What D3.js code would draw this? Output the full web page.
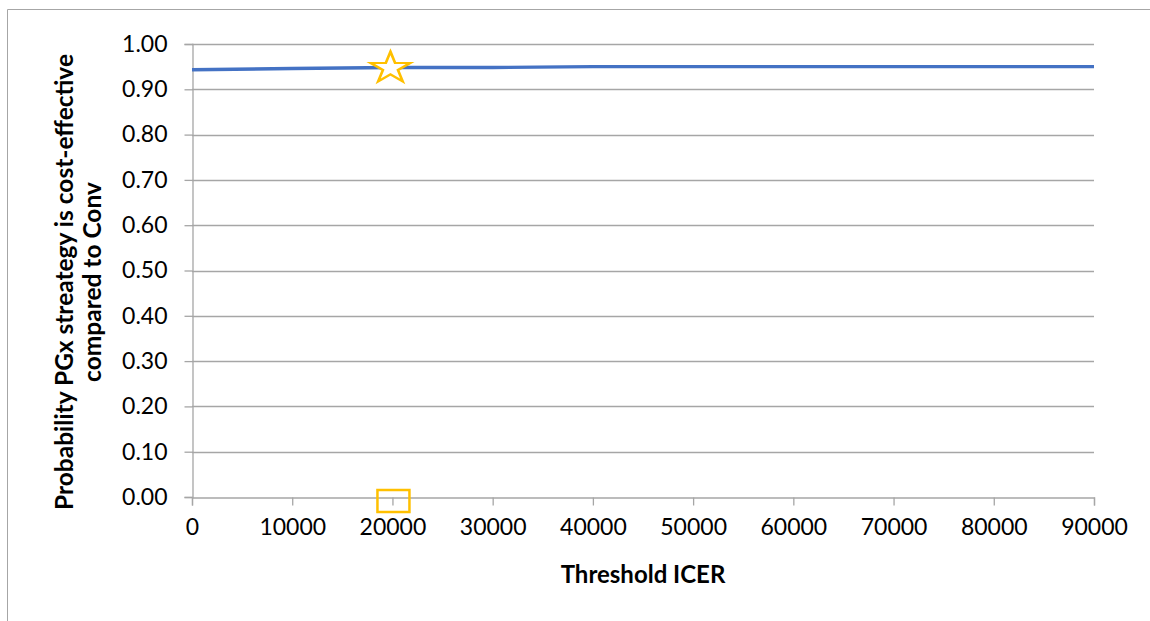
<!DOCTYPE html>
<html>
<head>
<meta charset="utf-8">
<script src="https://cdn.jsdelivr.net/npm/d3@7"></script>
<style>
  html, body { margin: 0; padding: 0; background: #fff; }
  svg { display: block; }
  text { font-family: Lato, "Open Sans", sans-serif; fill: #000; }
</style>
</head>
<body>
<svg id="chart" width="1150" height="621"></svg>
<script>
// Cost-effectiveness acceptability curve: PGx strategy vs Conv
const thresholds = [0, 10000, 20000, 30000, 40000, 50000, 60000, 70000, 80000, 90000];
const probability = [0.943, 0.946, 0.948, 0.948, 0.950, 0.950, 0.950, 0.950, 0.950, 0.950];
const xTicks = [0, 10000, 20000, 30000, 40000, 50000, 60000, 70000, 80000, 90000];
const yTicks = [0, 0.1, 0.2, 0.3, 0.4, 0.5, 0.6, 0.7, 0.8, 0.9, 1.0];
const highlightThreshold = [20000];

const svg = d3.select("#chart");
const W = 1150, H = 621;
const plot = { left: 192, right: 1094, top: 44, bottom: 497 };

const x = d3.scaleLinear().domain([0, 90000]).range([plot.left, plot.right]);
const y = d3.scaleLinear().domain([0, 1]).range([plot.bottom, plot.top]);

// chart frame
svg.append("path")
  .attr("d", `M7.5,${H} V9.5 H${W}`)
  .attr("fill", "none")
  .attr("stroke", "#a6a6a6")
  .attr("stroke-width", 1);

const gridColor = "#a6a6a6";

// horizontal gridlines
svg.append("g")
  .selectAll("line")
  .data(yTicks.slice(1))
  .join("line")
  .attr("x1", plot.left).attr("x2", plot.right)
  .attr("y1", d => Math.round(y(d)) + 0.5).attr("y2", d => Math.round(y(d)) + 0.5)
  .attr("stroke", gridColor).attr("stroke-width", 1.3);

// y axis
const yAxis = svg.append("g")
  .attr("transform", `translate(${plot.left + 0.5},0)`)
  .call(d3.axisLeft(y).tickValues(yTicks).tickFormat(d3.format(".2f")).tickSize(8).tickPadding(17));
yAxis.select(".domain").attr("stroke", gridColor).attr("stroke-width", 1.3);
yAxis.selectAll(".tick line").attr("stroke", gridColor).attr("stroke-width", 1.3);
yAxis.selectAll(".tick text")
  .attr("font-family", "Lato, 'Open Sans', sans-serif")
  .attr("font-size", 23).attr("fill", "#000");

// x axis
const xAxis = svg.append("g")
  .attr("transform", `translate(0,${Math.round(plot.bottom) + 0.5})`)
  .call(d3.axisBottom(x).tickValues(xTicks).tickFormat(d3.format("d")).tickSize(8).tickPadding(13));
xAxis.select(".domain").attr("stroke", gridColor).attr("stroke-width", 1.3);
xAxis.selectAll(".tick line").attr("stroke", gridColor).attr("stroke-width", 1.3);
xAxis.selectAll(".tick text")
  .attr("font-family", "Lato, 'Open Sans', sans-serif")
  .attr("font-size", 23).attr("fill", "#000");

// acceptability curve
const data = thresholds.map((t, i) => ({ t, p: probability[i] }));
svg.append("path")
  .datum(data)
  .attr("fill", "none")
  .attr("stroke", "#4472c4")
  .attr("stroke-width", 3.4)
  .attr("d", d3.line().x(d => x(d.t)).y(d => y(d.p)));

// highlighted threshold: star on the curve, box on the axis
const star = d3.symbol().type(d3.symbolStar).size(300);
svg.append("g")
  .selectAll("path")
  .data(highlightThreshold)
  .join("path")
  .attr("d", star)
  .attr("transform", d => {
    const p = probability[thresholds.indexOf(d)];
    return `translate(${x(d) - 2},${y(p) + 0.5}) scale(1.27,1)`;
  })
  .attr("fill", "#fff")
  .attr("stroke", "#ffc000")
  .attr("stroke-width", 2.2);

svg.append("g")
  .selectAll("rect")
  .data(highlightThreshold)
  .join("rect")
  .attr("x", d => x(d) - 15)
  .attr("y", y(0) - 7)
  .attr("width", 32)
  .attr("height", 22)
  .attr("fill", "none")
  .attr("stroke", "#ffc000")
  .attr("stroke-width", 2.5);

// axis titles
svg.append("text")
  .attr("x", 643).attr("y", 583)
  .attr("text-anchor", "middle")
  .attr("font-weight", "bold")
  .attr("font-size", 24)
  .text("Threshold ICER");

const yTitle = svg.append("text")
  .attr("transform", "translate(0,282) rotate(-90)")
  .attr("text-anchor", "middle")
  .attr("font-weight", "bold")
  .attr("font-size", 24.5);
yTitle.append("tspan").attr("x", 0).attr("y", 73).text("Probability PGx streategy is cost-effective");
yTitle.append("tspan").attr("x", 0).attr("y", 101).text("compared to Conv");
</script>
</body>
</html>
